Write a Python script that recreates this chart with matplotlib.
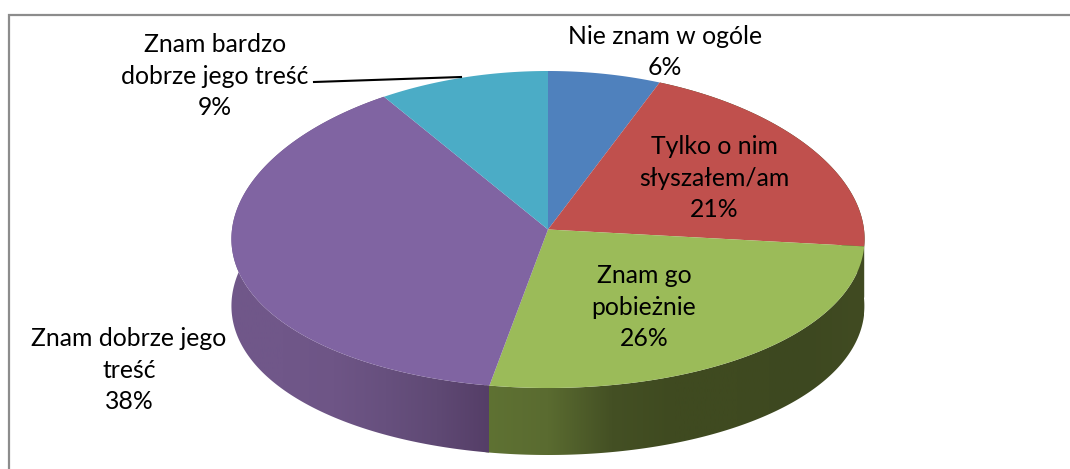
import numpy as np
import matplotlib
matplotlib.use("Agg")
import matplotlib.pyplot as plt
from matplotlib.colors import LinearSegmentedColormap
from matplotlib.patches import PathPatch
from matplotlib.path import Path

plt.rcParams['font.family'] = ['Lato', 'DejaVu Sans']

labels = ["Nie znam w ogóle", "Tylko o nim\nsłyszałem/am", "Znam go\npobieżnie",
          "Znam dobrze jego\ntreść", "Znam bardzo\ndobrze jego treść"]
values = [6.1, 20.6, 26.1, 38.0, 9.2]
colors = ["#4F81BD", "#C0504D", "#9BBB59", "#8064A2", "#4BACC6"]

W, H = 1070, 469
CX, CY, RX, RY, DEPTH = 548, 229.5, 316, 158.5, 67
PERSP = 0.06
OVERLAP = 0.012  # closes the hairline seam between neighbouring side walls

fig = plt.figure(figsize=(W / 100, H / 100), dpi=100, facecolor="white")
ax = fig.add_axes([0, 0, 1, 1])
ax.set_xlim(-CX / RX, (W - CX) / RX)
ax.set_ylim(-(H - CY) / RY, CY / RY)
ax.axis("off")
depth = DEPTH / RY


def rim(theta):
    """Rim of the pie top for clockwise angle theta, viewed with slight perspective."""
    return np.sin(theta) * (1 - PERSP * np.cos(theta)), np.cos(theta)


def px(xp, yp):
    return (xp - CX) / RX, (CY - yp) / RY


edges = np.cumsum([0] + values) / sum(values) * 2 * np.pi


def side(theta0, theta1, stops):
    th = np.linspace(theta0, theta1, 300)
    x, y = rim(th)
    verts = np.r_[np.c_[x, y], np.c_[x[::-1], y[::-1] - depth]]
    codes = [Path.MOVETO] + [Path.LINETO] * (len(verts) - 1)
    patch = PathPatch(Path(verts, codes), fc="none", ec="none")
    ax.add_patch(patch)
    cmap = LinearSegmentedColormap.from_list("s", stops)
    im = ax.imshow(np.linspace(0, 1, 256)[None, :], cmap=cmap, aspect="auto",
                   extent=(x.min(), x.max(), -2, 2), zorder=2, interpolation="bilinear")
    im.set_clip_path(patch)


# visible side walls
side(edges[1], edges[2], ["#3F4A20", "#3F4A20"])
side(edges[2], edges[3] + OVERLAP, ["#5F7233", "#5A6B30", "#445024", "#3F4A20", "#3F4A20", "#3D4820", "#414B22"])
side(edges[3], edges[4], ["#70578A", "#705789", "#6E5586", "#67507E", "#5F4974", "#553E67"])
ax.set_xlim(-CX / RX, (W - CX) / RX)
ax.set_ylim(-(H - CY) / RY, CY / RY)

# pie top
for a, b, c in zip(edges[:-1], edges[1:], colors):
    th = np.linspace(a, b, 300)
    x, y = rim(th)
    ax.fill(np.r_[0, x], np.r_[0, y], color=c, lw=0, zorder=3)

# outer frame: only the top and left edges show
fx0, fy0 = px(9, 14.5)
fx1, fy1 = px(W, H)
ax.plot([fx0, fx0, fx1], [fy1, fy0, fy0], color="#8C8C8C", lw=1.6, zorder=1,
        solid_joinstyle="miter")

# labels
fs = 17.8
pos = [(665, 52), (714, 178), (644, 307), (129, 370), (215, 76)]
for lab, v, (xp, yp) in zip(labels, values, pos):
    ax.text(*px(xp, yp), f"{lab}\n{v:.0f}%", ha="center", va="center", fontsize=fs,
            color="black", linespacing=1.43, zorder=5)

# leader line
lx, ly = zip(px(314, 82), px(461, 77))
ax.plot(lx, ly, color="black", lw=1.5, zorder=5)

fig.savefig("out.png", dpi=100)
